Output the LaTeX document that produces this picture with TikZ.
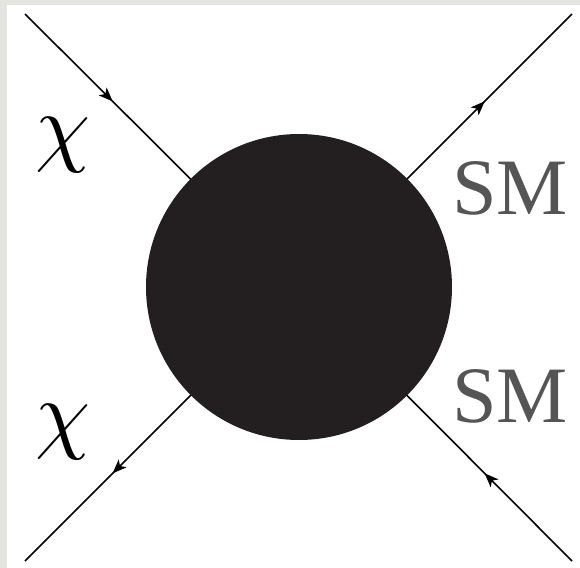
\documentclass[tikz,border=0pt]{standalone}
\usepackage{amsmath}
\usepackage{graphicx}
\usepackage{fontspec}
\newfontfamily\smfont{Liberation Serif}
\usetikzlibrary{arrows.meta}
\usetikzlibrary{decorations.markings}
\definecolor{blobcol}{RGB}{35,31,32}
\definecolor{smgray}{RGB}{85,85,85}
\definecolor{framegray}{RGB}{228,228,224}
\tikzset{arrin/.style = {decoration={markings,
                                  mark=at position 0.32
                                  with {\arrow{Stealth[length=7pt,width=5.5pt,inset=1.8pt]}}},
                      postaction={decorate}}}
\tikzset{arrout/.style = {decoration={markings,
                                  mark=at position 0.32
                                  with {\arrowreversed{Stealth[length=7pt,width=5.5pt,inset=1.8pt]}}},
                      postaction={decorate}}}
\tikzset{blob/.style = {fill=blobcol, circle, inner sep = 0, minimum size = 153pt}}
\tikzset{lbl/.style = {inner sep=0, font=\smfont\fontsize{40}{48}\selectfont}}
\begin{document}
\begin{tikzpicture}[x=0.5pt, y=-0.5pt, line width=0.8pt]
          \useasboundingbox (0,0) rectangle (580,568);
          \fill[framegray] (0,0) rectangle (580,568);
          \fill[white] (7,5) rectangle (580,568);
          \coordinate (c) at (299,287);
          \coordinate (tl) at (25,14);
          \coordinate (bl) at (25,561);
          \coordinate (tr) at (572,14);
          \coordinate (br) at (572,561);
          \draw[arrin] (tl) -- (c);
          \draw[arrout] (bl) -- (c);
          \draw[arrout] (tr) -- (c);
          \draw[arrin] (br) -- (c);
          \node[blob] (blob) at (c) {};
          \node[inner sep=0] (chi1) at (63,145) {\scalebox{4.4}{$\chi$}};
          \node[inner sep=0] (chi2) at (63,432) {\scalebox{4.4}{$\chi$}};
          \node[lbl, text=smgray] (sm1) at (510,188) {SM};
          \node[lbl, text=smgray] (sm2) at (510,396) {SM};
        \end{tikzpicture}
\end{document}
